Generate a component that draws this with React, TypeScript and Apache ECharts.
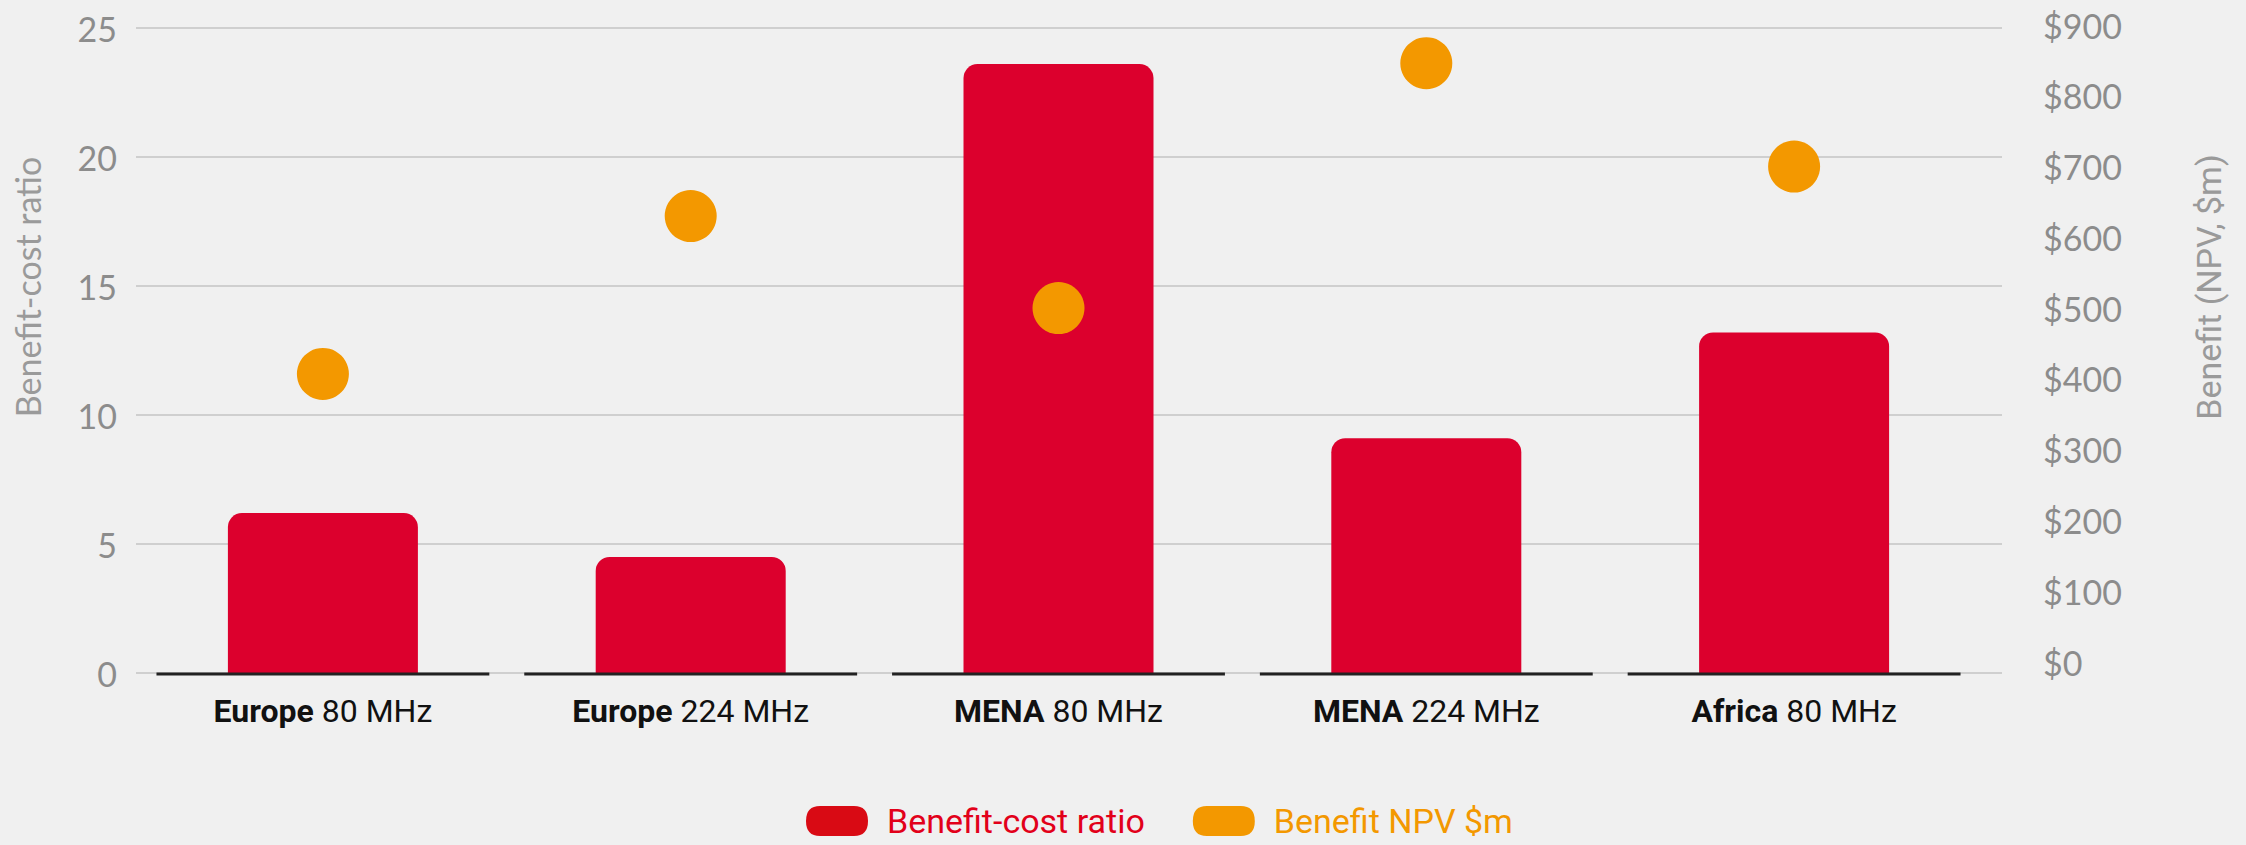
import React, { useEffect, useRef } from "react";
import * as echarts from "echarts";

const regions = ["Europe", "Europe", "MENA", "MENA", "Africa"];
const bands = ["80 MHz", "224 MHz", "80 MHz", "224 MHz", "80 MHz"];
const categories = regions.map((r, i) => `${r} ${bands[i]}`);
const ratioValues = [6.2, 4.5, 23.6, 9.1, 13.2];
const npvValues = [407, 630, 500, 846, 700];
const ratioAxis = { min: 0, max: 25, interval: 5 };
const npvAxis = { min: 0, max: 900, interval: 100 };
const seriesNames = ["Benefit-cost ratio", "Benefit NPV $m"];
const axisNames = ["Benefit-cost ratio", "Benefit (NPV, $m)"];

const BG = "#f0f0f0";
const RED = "#dc002d";
const ORANGE = "#f39800";
const GRAY = "#8c8c8c";

export default function App() {
  const ref = useRef<HTMLDivElement>(null);
  useEffect(() => {
    if (!ref.current) return;
    const chart = echarts.init(ref.current, null, { renderer: "svg" });
    const option: any = {
      animation: false,
      backgroundColor: BG,
      grid: [
        { left: 139, right: 268, top: 28, height: 645 },
        { left: 136, right: 244, top: 28, height: 645 },
        { left: 139, right: 268, top: 25, height: 637 },
      ],
      xAxis: [
        {
          type: "category",
          gridIndex: 0,
          data: categories,
          axisLine: { show: false },
          axisTick: { show: false },
          axisLabel: {
            margin: 18,
            interval: 0,
            formatter: (v: string) => {
              const i = categories.indexOf(v);
              return `{b|${regions[i]}}{r| ${bands[i]}}`;
            },
            rich: {
              b: { fontFamily: "Roboto", fontWeight: "bold", fontSize: 32, color: "#111", lineHeight: 40 },
              r: { fontFamily: "Roboto", fontSize: 32, color: "#111", lineHeight: 40 },
            },
          },
        },
        { type: "value", gridIndex: 1, show: false, min: 0, max: 1 },
        { type: "category", gridIndex: 2, data: categories, show: false },
      ],
      yAxis: [
        { type: "value", gridIndex: 0, show: false, ...ratioAxis },
        {
          type: "value",
          gridIndex: 1,
          position: "left",
          ...ratioAxis,
          axisLine: { show: false },
          axisTick: { show: false },
          axisLabel: { margin: 19, fontFamily: "Lato", fontSize: 34, color: GRAY },
          splitLine: { show: true, lineStyle: { color: "#c4c4c4", width: 1.5 } },
        },
        {
          type: "value",
          gridIndex: 2,
          position: "right",
          ...npvAxis,
          axisLine: { show: false },
          axisTick: { show: false },
          splitLine: { show: false },
          axisLabel: {
            margin: 65,
            fontFamily: "Lato",
            fontSize: 34,
            color: GRAY,
            formatter: (v: number) => `$${v}`,
          },
        },
      ],
      legend: {
        left: 806,
        top: 804,
        padding: 0,
        itemWidth: 62,
        itemHeight: 31,
        itemGap: 48,
        icon: "path://M14,0 L48,0 Q62,0 62,15 Q62,30 48,30 L14,30 Q0,30 0,15 Q0,0 14,0 Z",
        textStyle: { fontFamily: "Roboto", fontSize: 34, lineHeight: 34, padding: [0, 0, 0, 14] },
        data: [
          { name: seriesNames[0], itemStyle: { color: "#d90a14" }, textStyle: { color: "#e2001a" } },
          { name: seriesNames[1], itemStyle: { color: ORANGE }, textStyle: { color: ORANGE } },
        ],
      },
      graphic: [
        {
          type: "text",
          x: 27,
          y: 287,
          rotation: Math.PI / 2,
          style: {
            text: axisNames[0],
            fontFamily: "Lato",
            fontSize: 34,
            fill: "#9a9a9a",
            align: "center",
            verticalAlign: "middle",
          },
        },
        {
          type: "text",
          x: 2209,
          y: 287,
          rotation: Math.PI / 2,
          style: {
            text: axisNames[1],
            fontFamily: "Roboto",
            fontSize: 34,
            fill: "#9a9a9a",
            align: "center",
            verticalAlign: "middle",
          },
        },
      ],
      series: [
        {
          name: seriesNames[0],
          type: "bar",
          xAxisIndex: 0,
          yAxisIndex: 0,
          data: ratioValues,
          barWidth: 190,
          itemStyle: { color: RED, borderRadius: [14, 14, 0, 0] },
          z: 2,
        },
        {
          name: "baseline",
          type: "custom",
          xAxisIndex: 0,
          yAxisIndex: 0,
          data: categories.map((_, i) => [i, 0]),
          renderItem: (params: any, api: any) => {
            const p = api.coord([api.value(0), 0]);
            const w = api.size([1, 0])[0] * 0.905;
            return {
              type: "line",
              shape: { x1: p[0] - w / 2, y1: p[1] + 1, x2: p[0] + w / 2, y2: p[1] + 1 },
              style: { stroke: "#222", lineWidth: 3 },
            };
          },
          z: 3,
          silent: true,
        },
        {
          name: seriesNames[1],
          type: "scatter",
          xAxisIndex: 2,
          yAxisIndex: 2,
          data: npvValues,
          symbol: "circle",
          symbolSize: 52,
          itemStyle: { color: ORANGE, opacity: 1 },
          z: 5,
        },
      ],
    };
    chart.setOption(option);
    return () => chart.dispose();
  }, []);
  return (
    <div
      ref={ref}
      style={{ position: "fixed", left: 0, top: 0, width: 2246, height: 845 }}
    />
  );
}
